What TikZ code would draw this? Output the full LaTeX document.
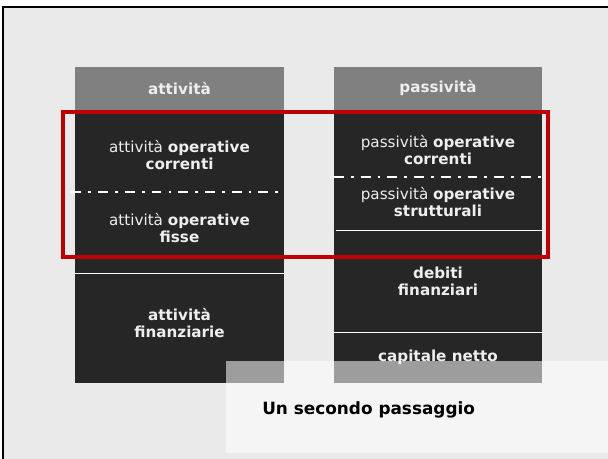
\documentclass[tikz,border=0pt]{standalone}
\usepackage{fontspec}
\setmainfont{DejaVu Sans}
\usetikzlibrary{positioning}
\definecolor{pagegrey}{HTML}{EAEAEA}
\definecolor{headgrey}{HTML}{808080}
\definecolor{cellgrey}{HTML}{262626}
\definecolor{celltext}{HTML}{EEEEEE}
\definecolor{hired}{HTML}{C00000}

\begin{document}
\begin{tikzpicture}[x=0.025cm, y=-0.025cm,
    cell/.style={rectangle, fill=cellgrey, minimum width=5.2cm, inner sep=0pt, outer sep=0pt},
    head/.style={cell, fill=headgrey, text=celltext, minimum height=1.075cm, font=\bfseries\fontsize{10.8}{12}\selectfont},
    celltxt/.style={text=celltext, align=center, inner sep=0pt, font=\fontsize{10.8}{12}\selectfont},
    sep/.style={white, line width=0.7pt},
    sepdash/.style={white, line width=1.3pt, dash pattern=on 7pt off 5pt on 2pt off 5pt},
    hilite/.style={draw=hired, line width=2.2pt}
]
\useasboundingbox (0,0) rectangle (608,459);
\fill[white] (0,0) rectangle (608,459);
\fill[pagegrey] (3,7) rectangle (608,459);
\draw[line width=1.5pt] (3,470) -- (3,7) -- (620,7);

% attivita
\node[head] (atthead) at (179.5,88.5) {attività};
\node[cell, minimum height=2.05cm, below=0pt of atthead] (aoc) {};
\node[cell, minimum height=2.025cm, below=0pt of aoc] (aof) {};
\node[cell, minimum height=2.75cm, below=0pt of aof] (af) {};
\node[celltxt] (aoctxt) at ([yshift=-0.1cm]aoc.center) {attività \textbf{operative}\\\textbf{correnti}};
\node[celltxt] (aoftxt) at ([yshift=0.11cm]aof.center) {attività \textbf{operative}\\\textbf{fisse}};
\node[celltxt, font=\bfseries\fontsize{10.8}{12}\selectfont] (aftxt) at ([yshift=0.12cm]af.center) {attività\\finanziarie};

% passivita
\node[head] (passhead) at (438,88.5) {passività};
\node[cell, minimum height=1.675cm, below=0pt of passhead] (poc) {};
\node[cell, minimum height=1.325cm, below=0pt of poc] (pos) {};
\node[cell, minimum height=2.55cm, below=0pt of pos] (df) {};
\node[cell, minimum height=1.275cm, below=0pt of df] (cn) {};
\node[celltxt] (poctxt) at ([yshift=-0.16cm]poc.center) {passività \textbf{operative}\\\textbf{correnti}};
\node[celltxt] (postxt) at ([yshift=0.04cm]pos.center) {passività \textbf{operative}\\\textbf{strutturali}};
\node[celltxt, font=\bfseries\fontsize{10.8}{12}\selectfont] (dftxt) at (df.center) {debiti\\finanziari};
\node[celltxt, font=\bfseries\fontsize{10.8}{12}\selectfont] (cntxt) at (cn.center) {capitale netto};

\draw[sepdash] ([xshift=-0.1cm]aof.north west) -- (aof.north east);
\draw[sep] (af.north west) -- (af.north east);
\draw[sepdash] (pos.north west) -- (pos.north east);
\draw[sep] ([xshift=0.05cm]df.north west) -- (df.north east);
\draw[sep] (cn.north west) -- (cn.north east);

\draw[hilite] (63,112) rectangle (548,257);

\fill[white, opacity=0.55] (226,361) rectangle (608,453);
\node[anchor=west, inner sep=0pt, font=\bfseries\fontsize{12}{14}\selectfont] (title) at (262,410) {Un secondo passaggio};
\end{tikzpicture}
\end{document}
